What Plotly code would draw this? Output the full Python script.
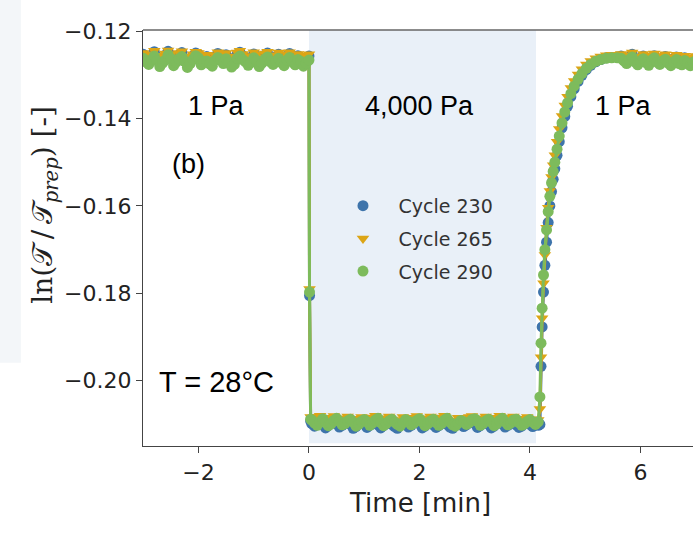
import plotly.graph_objects as go

# ---------------- data ----------------
time_min = [
    # 1 Pa (before step)
    -3.00, -2.95, -2.90, -2.85, -2.80, -2.75, -2.70, -2.65, -2.60, -2.55, -2.50,
    -2.45, -2.40, -2.35, -2.30, -2.25, -2.20, -2.15, -2.10, -2.05, -2.00,
    -1.95, -1.90, -1.85, -1.80, -1.75, -1.70, -1.65, -1.60, -1.55, -1.50,
    -1.45, -1.40, -1.35, -1.30, -1.25, -1.20, -1.15, -1.10, -1.05, -1.00,
    -0.95, -0.90, -0.85, -0.80, -0.75, -0.70, -0.65, -0.60, -0.55, -0.50,
    -0.45, -0.40, -0.35, -0.30, -0.25, -0.20, -0.15, -0.10, -0.05, 0.00,
    # step
    0.01, 0.03,
    # 4,000 Pa
    0.05, 0.10, 0.15, 0.20, 0.25, 0.30, 0.35, 0.40, 0.45, 0.50,
    0.55, 0.60, 0.65, 0.70, 0.75, 0.80, 0.85, 0.90, 0.95, 1.00,
    1.05, 1.10, 1.15, 1.20, 1.25, 1.30, 1.35, 1.40, 1.45, 1.50,
    1.55, 1.60, 1.65, 1.70, 1.75, 1.80, 1.85, 1.90, 1.95, 2.00,
    2.05, 2.10, 2.15, 2.20, 2.25, 2.30, 2.35, 2.40, 2.45, 2.50,
    2.55, 2.60, 2.65, 2.70, 2.75, 2.80, 2.85, 2.90, 2.95, 3.00,
    3.05, 3.10, 3.15, 3.20, 3.25, 3.30, 3.35, 3.40, 3.45, 3.50,
    3.55, 3.60, 3.65, 3.70, 3.75, 3.80, 3.85, 3.90, 3.95, 4.00,
    4.05, 4.10, 4.15,
    # recovery at 1 Pa
    4.18, 4.20, 4.22, 4.245, 4.27, 4.30, 4.33, 4.36, 4.39, 4.42, 4.45, 4.49, 4.53, 4.58, 4.63, 4.68,
    4.74, 4.80, 4.87, 4.94, 5.02, 5.10, 5.19, 5.28, 5.38, 5.48, 5.58,
    5.65, 5.70, 5.75, 5.80, 5.85, 5.90, 5.95, 6.00, 6.05, 6.10, 6.15, 6.20, 6.25, 6.30,
    6.35, 6.40, 6.45, 6.50, 6.55, 6.60, 6.65, 6.70, 6.75, 6.80, 6.85, 6.90, 6.95, 7.00,
]

cycle_230 = [
    -0.1253, -0.1261, -0.1268, -0.1257, -0.1247, -0.1259, -0.1272, -0.1264, -0.1255, -0.1246, -0.1256,
    -0.1270, -0.1263, -0.1254, -0.1249, -0.1262, -0.1275, -0.1266, -0.1257, -0.1250, -0.1253,
    -0.1268, -0.1261, -0.1258, -0.1266, -0.1271, -0.1259, -0.1251, -0.1257, -0.1265, -0.1254,
    -0.1262, -0.1273, -0.1267, -0.1253, -0.1248, -0.1256, -0.1261, -0.1270, -0.1263, -0.1252,
    -0.1258, -0.1272, -0.1264, -0.1255, -0.1250, -0.1261, -0.1267, -0.1259, -0.1253, -0.1263,
    -0.1270, -0.1257, -0.1251, -0.1262, -0.1268, -0.1256, -0.1260, -0.1271, -0.1264, -0.1257,
    -0.1805, -0.2092,
    -0.2098, -0.2104, -0.2095, -0.2092, -0.2101, -0.2108, -0.2103, -0.2096, -0.2091, -0.2099,
    -0.2106, -0.2102, -0.2097, -0.2093, -0.2100, -0.2109, -0.2105, -0.2098, -0.2094, -0.2099,
    -0.2107, -0.2102, -0.2095, -0.2091, -0.2101, -0.2108, -0.2103, -0.2097, -0.2093, -0.2100,
    -0.2105, -0.2109, -0.2101, -0.2094, -0.2098, -0.2106, -0.2102, -0.2096, -0.2092, -0.2099,
    -0.2108, -0.2104, -0.2097, -0.2093, -0.2101, -0.2107, -0.2103, -0.2095, -0.2091, -0.2100,
    -0.2106, -0.2109, -0.2102, -0.2096, -0.2099, -0.2105, -0.2101, -0.2094, -0.2092, -0.2098,
    -0.2107, -0.2103, -0.2097, -0.2093, -0.2100, -0.2108, -0.2104, -0.2096, -0.2091, -0.2099,
    -0.2106, -0.2102, -0.2095, -0.2093, -0.2101, -0.2107, -0.2104, -0.2098, -0.2094, -0.2100,
    -0.2105, -0.2099, -0.2102,
    -0.2100, -0.1967, -0.1877, -0.1797, -0.1736, -0.1683, -0.1638, -0.1600, -0.1567, -0.1539, -0.1515,
    -0.1484, -0.1453, -0.1421, -0.1395, -0.1372, -0.1350, -0.1332, -0.1315, -0.1301, -0.1288, -0.1278,
    -0.1270, -0.1265, -0.1261, -0.1260, -0.1259,
    -0.1257, -0.1263, -0.1268, -0.1259, -0.1253, -0.1265, -0.1271, -0.1262, -0.1257, -0.1266,
    -0.1272, -0.1260, -0.1256, -0.1265, -0.1270, -0.1262, -0.1258, -0.1267, -0.1273, -0.1263,
    -0.1259, -0.1268, -0.1271, -0.1261, -0.1266, -0.1273, -0.1265, -0.1262,
]

cycle_265 = [
    -0.1250, -0.1257, -0.1264, -0.1253, -0.1245, -0.1256, -0.1268, -0.1260, -0.1251, -0.1244, -0.1252,
    -0.1266, -0.1259, -0.1250, -0.1246, -0.1258, -0.1270, -0.1262, -0.1253, -0.1247, -0.1250,
    -0.1264, -0.1257, -0.1254, -0.1262, -0.1267, -0.1255, -0.1248, -0.1253, -0.1261, -0.1250,
    -0.1258, -0.1269, -0.1263, -0.1249, -0.1245, -0.1252, -0.1257, -0.1266, -0.1259, -0.1248,
    -0.1254, -0.1268, -0.1260, -0.1251, -0.1247, -0.1257, -0.1263, -0.1255, -0.1249, -0.1259,
    -0.1266, -0.1253, -0.1248, -0.1258, -0.1264, -0.1252, -0.1256, -0.1267, -0.1260, -0.1253,
    -0.1790, -0.2083,
    -0.2085, -0.2091, -0.2083, -0.2080, -0.2089, -0.2096, -0.2092, -0.2085, -0.2081, -0.2088,
    -0.2094, -0.2090, -0.2086, -0.2082, -0.2089, -0.2097, -0.2093, -0.2087, -0.2083, -0.2088,
    -0.2095, -0.2091, -0.2084, -0.2080, -0.2090, -0.2096, -0.2092, -0.2086, -0.2082, -0.2089,
    -0.2094, -0.2097, -0.2090, -0.2083, -0.2087, -0.2095, -0.2091, -0.2085, -0.2081, -0.2088,
    -0.2096, -0.2093, -0.2086, -0.2082, -0.2090, -0.2095, -0.2092, -0.2084, -0.2080, -0.2089,
    -0.2094, -0.2097, -0.2091, -0.2085, -0.2088, -0.2094, -0.2090, -0.2083, -0.2081, -0.2087,
    -0.2096, -0.2092, -0.2086, -0.2082, -0.2089, -0.2097, -0.2093, -0.2085, -0.2080, -0.2088,
    -0.2094, -0.2091, -0.2084, -0.2082, -0.2090, -0.2096, -0.2093, -0.2087, -0.2083, -0.2089,
    -0.2094, -0.2088, -0.2090,
    -0.2065, -0.1946, -0.1857, -0.1777, -0.1712, -0.1650, -0.1604, -0.1566, -0.1534, -0.1507, -0.1484,
    -0.1453, -0.1424, -0.1394, -0.1370, -0.1350, -0.1330, -0.1314, -0.1299, -0.1287, -0.1276, -0.1268,
    -0.1262, -0.1258, -0.1255, -0.1254, -0.1254,
    -0.1252, -0.1258, -0.1263, -0.1255, -0.1249, -0.1260, -0.1266, -0.1258, -0.1252, -0.1261,
    -0.1267, -0.1256, -0.1251, -0.1260, -0.1265, -0.1257, -0.1253, -0.1262, -0.1268, -0.1259,
    -0.1254, -0.1263, -0.1266, -0.1256, -0.1261, -0.1268, -0.1260, -0.1257,
]

cycle_290 = [
    -0.1262, -0.1270, -0.1276, -0.1265, -0.1257, -0.1268, -0.1281, -0.1273, -0.1266, -0.1254, -0.1263,
    -0.1279, -0.1271, -0.1263, -0.1258, -0.1269, -0.1283, -0.1274, -0.1265, -0.1256, -0.1261,
    -0.1277, -0.1270, -0.1268, -0.1275, -0.1280, -0.1267, -0.1260, -0.1266, -0.1274, -0.1263,
    -0.1271, -0.1282, -0.1276, -0.1262, -0.1257, -0.1265, -0.1270, -0.1278, -0.1272, -0.1261,
    -0.1267, -0.1281, -0.1273, -0.1264, -0.1259, -0.1270, -0.1276, -0.1268, -0.1262, -0.1272,
    -0.1279, -0.1266, -0.1260, -0.1271, -0.1277, -0.1265, -0.1269, -0.1280, -0.1273, -0.1266,
    -0.1797, -0.2088,
    -0.2090, -0.2097, -0.2102, -0.2094, -0.2087, -0.2096, -0.2103, -0.2099, -0.2091, -0.2086,
    -0.2093, -0.2101, -0.2098, -0.2092, -0.2088, -0.2095, -0.2104, -0.2100, -0.2093, -0.2089,
    -0.2094, -0.2102, -0.2097, -0.2090, -0.2086, -0.2096, -0.2103, -0.2098, -0.2092, -0.2088,
    -0.2095, -0.2100, -0.2104, -0.2096, -0.2089, -0.2093, -0.2101, -0.2097, -0.2091, -0.2087,
    -0.2094, -0.2103, -0.2099, -0.2092, -0.2088, -0.2096, -0.2102, -0.2098, -0.2090, -0.2086,
    -0.2095, -0.2101, -0.2104, -0.2097, -0.2091, -0.2094, -0.2100, -0.2096, -0.2089, -0.2087,
    -0.2093, -0.2102, -0.2098, -0.2092, -0.2088, -0.2095, -0.2103, -0.2099, -0.2091, -0.2086,
    -0.2094, -0.2101, -0.2097, -0.2090, -0.2088, -0.2096, -0.2102, -0.2099, -0.2093, -0.2089,
    -0.2095, -0.2100, -0.2094,
    -0.2037, -0.1914, -0.1834, -0.1758, -0.1700, -0.1655, -0.1613, -0.1578, -0.1547, -0.1521, -0.1500,
    -0.1470, -0.1440, -0.1410, -0.1385, -0.1364, -0.1343, -0.1326, -0.1310, -0.1297, -0.1285, -0.1276,
    -0.1269, -0.1265, -0.1262, -0.1261, -0.1261,
    -0.1262, -0.1268, -0.1274, -0.1265, -0.1259, -0.1270, -0.1277, -0.1269, -0.1263, -0.1272,
    -0.1278, -0.1266, -0.1261, -0.1271, -0.1276, -0.1268, -0.1264, -0.1273, -0.1279, -0.1270,
    -0.1265, -0.1274, -0.1277, -0.1267, -0.1272, -0.1279, -0.1271, -0.1268,
]

series_names = ["Cycle 230", "Cycle 265", "Cycle 290"]
series_values = [cycle_230, cycle_265, cycle_290]
series_colors = ["#3E74AB", "#DCA516", "#7DBB5C"]
series_symbols = ["circle", "triangle-down", "circle"]

high_stress_window = [0.0, 4.11]   # minutes, shaded region
region_labels = ["1 Pa", "4,000 Pa", "1 Pa"]
region_label_x = [-1.68, 2.0, 5.70]

x_ticks = [-2, 0, 2, 4, 6]
y_ticks = [-0.12, -0.14, -0.16, -0.18, -0.20]
x_range = [-3.004, 6.951]
y_range = [-0.21494, -0.11973]

# ---------------- figure ----------------
fig = go.Figure()
for name, vals, col, sym in zip(series_names, series_values, series_colors, series_symbols):
    fig.add_trace(go.Scatter(
        x=time_min, y=vals, name=name, legendgroup=name, showlegend=False,
        mode="lines", line=dict(color=col, width=3),
    ))
    fig.add_trace(go.Scatter(
        x=time_min, y=vals, name="\u2002\u00a0" + name, legendgroup=name,
        mode="markers",
        marker=dict(color=col, size=11, symbol=sym, line=dict(width=0)),
    ))

fig.add_shape(type="rect", xref="x", yref="y",
              x0=high_stress_window[0], x1=high_stress_window[1],
              y0=-0.2143, y1=y_range[1],
              fillcolor="#E9F0F8", line=dict(width=0), layer="below")
# top frame line
fig.add_shape(type="line", xref="paper", yref="paper", x0=0, x1=1, y0=1, y1=1,
              line=dict(color="#666666", width=1.3))
# faint tinted strip at the far left of the image
fig.add_shape(type="rect", xref="paper", yref="paper", x0=-0.2612, x1=-0.222, y0=0.2, y1=1.072,
              fillcolor="#F3F6F9", line=dict(width=0), layer="below")

txt_font = dict(family="Liberation Sans, Arial, sans-serif", size=27, color="#000000")
for lab, lx in zip(region_labels, region_label_x):
    fig.add_annotation(x=lx, y=-0.1372, text=lab, showarrow=False, font=txt_font,
                       xanchor="center", yanchor="middle")
fig.add_annotation(x=-2.18, y=-0.1505, text="(b)", showarrow=False, font=txt_font,
                   xanchor="center", yanchor="middle")
fig.add_annotation(x=-1.68, y=-0.2003, text="T = 28°C", showarrow=False,
                   font=dict(family="Liberation Sans, Arial, sans-serif", size=29, color="#000000"),
                   xanchor="center", yanchor="middle")

# axis titles
fig.add_annotation(xref="paper", yref="paper", x=0.503, y=-0.137, text="Time [min]",
                   showarrow=False, xanchor="center", yanchor="middle",
                   font=dict(family="DejaVu Sans", size=26, color="#222222"))
fig.add_annotation(xref="paper", yref="paper", x=-0.178, y=0.58,
                   text="ln(𝒯\u2009/\u2009𝒯<sub><i>prep</i></sub>) [-]",
                   textangle=-90, showarrow=False, xanchor="center", yanchor="middle",
                   font=dict(family="DejaVu Serif, Liberation Serif, serif", size=28, color="#222222"))

axis_common = dict(showgrid=False, zeroline=False, showline=True, linecolor="#444444", linewidth=1.3,
                   ticks="outside", ticklen=6, tickwidth=1.2, tickcolor="#444444",
                   tickfont=dict(family="DejaVu Sans", size=22, color="#222222"))
fig.update_xaxes(range=x_range, tickvals=x_ticks, ticktext=[f"{v:d}".replace("-", "\u2212") for v in x_ticks],
                 **axis_common)
fig.update_yaxes(range=y_range, tickvals=y_ticks,
                 ticktext=[f"{v:.2f}".replace("-", "\u2212") for v in y_ticks], **axis_common)

fig.update_layout(
    width=693, height=539,
    margin=dict(l=143, r=0, t=30, b=93),
    paper_bgcolor="#FFFFFF", plot_bgcolor="#FFFFFF",
    showlegend=True,
    legend=dict(x=0.3636, y=0.623, xanchor="left", yanchor="top",
                bgcolor="rgba(0,0,0,0)", borderwidth=0, tracegroupgap=5,
                font=dict(family="DejaVu Sans", size=19, color="#333333")),
)

fig.write_html("out.html")
